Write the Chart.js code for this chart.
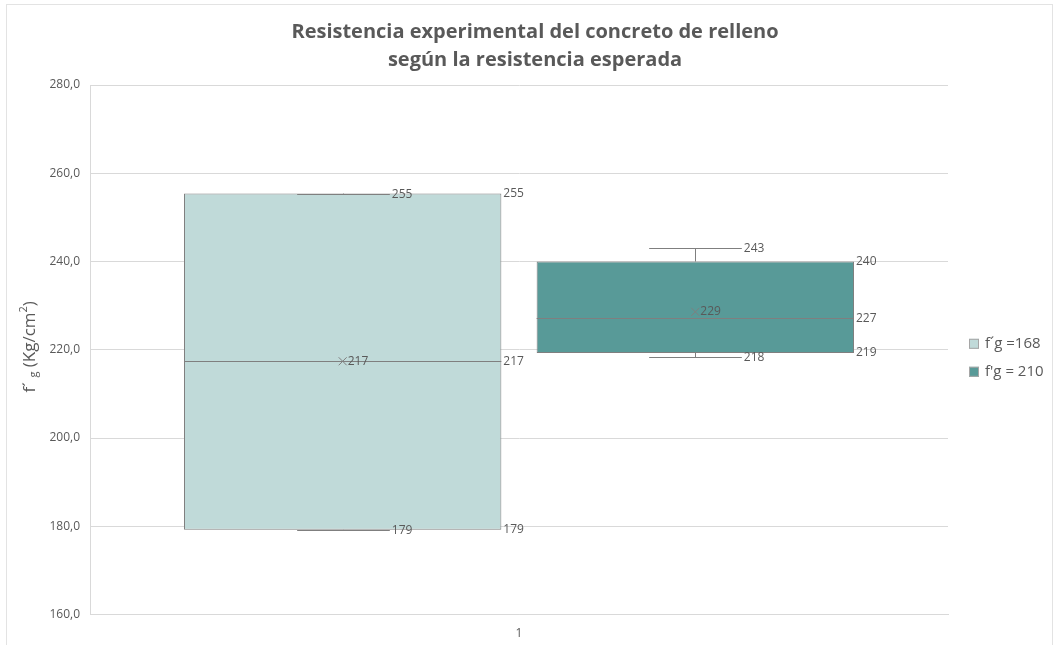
<!DOCTYPE html>
<html>
<head>
<meta charset="utf-8">
<script src="https://cdn.jsdelivr.net/npm/chart.js@4.4.1/dist/chart.umd.min.js"></script>
<style>
  html, body { margin: 0; padding: 0; background: #fff; }
</style>
</head>
<body>
<canvas id="chart" width="1058" height="645"></canvas>
<script>
// Box & whisker data (one category, two groups)
const categories = ['1'];
const seriesNames = ['f´g =168', "f'g = 210"];
const mins    = [179.2, 218.3];
const q1s     = [179.2, 219.3];
const medians = [217.4, 227.2];
const q3s     = [255.4, 240.0];
const maxs    = [255.4, 243.1];
const means   = [217.4, 228.6];
const yTicks  = [160, 180, 200, 220, 240, 260, 280];

const fills = ['#c0dad9', '#589a98'];
const lineGray = '#7f7f7f';
const textGray = '#595959';
const FONT = "'Open Sans', sans-serif";

const fmt = v => v.toFixed(1).replace('.', ',');

// whiskers, median, mean marker and value labels on top of the floating bars
const boxDecor = {
    id: 'boxDecor',
    afterDatasetsDraw(chart) {
        const ctx = chart.ctx;
        const y = chart.scales.y;
        ctx.save();
        ctx.lineWidth = 1;
        ctx.strokeStyle = lineGray;
        ctx.fillStyle = textGray;
        ctx.font = '12px ' + FONT;
        ctx.textBaseline = 'middle';
        ctx.textAlign = 'left';

        chart.data.datasets.forEach((ds, i) => {
            const bar = chart.getDatasetMeta(i).data[0];
            const cx = Math.round(bar.x) + 0.5;
            const half = bar.width / 2;
            const right = bar.x + half;
            const cap = bar.width * 0.146;

            const yMin = Math.round(y.getPixelForValue(mins[i])) + 0.5;
            const yMax = Math.round(y.getPixelForValue(maxs[i])) + 0.5;
            const yQ1 = y.getPixelForValue(q1s[i]);
            const yQ3 = y.getPixelForValue(q3s[i]);
            const yMed = Math.round(y.getPixelForValue(medians[i])) + 0.5;
            const yMean = y.getPixelForValue(means[i]);

            // whiskers + caps
            ctx.beginPath();
            ctx.moveTo(cx, yQ3); ctx.lineTo(cx, yMax);
            ctx.moveTo(cx, yQ1); ctx.lineTo(cx, yMin);
            ctx.moveTo(cx - cap, yMax); ctx.lineTo(cx + cap, yMax);
            ctx.moveTo(cx - cap, yMin); ctx.lineTo(cx + cap, yMin);
            // median
            ctx.moveTo(bar.x - half, yMed); ctx.lineTo(right, yMed);
            ctx.stroke();

            // mean marker
            const m = 4;
            ctx.beginPath();
            ctx.moveTo(bar.x - m, yMean - m); ctx.lineTo(bar.x + m, yMean + m);
            ctx.moveTo(bar.x - m, yMean + m); ctx.lineTo(bar.x + m, yMean - m);
            ctx.stroke();

            // labels
            ctx.fillText(Math.round(maxs[i]), cx + cap + 2, yMax);
            ctx.fillText(Math.round(mins[i]), cx + cap + 2, yMin);
            ctx.fillText(Math.round(q3s[i]), right + 2, yQ3);
            ctx.fillText(Math.round(medians[i]), right + 2, yMed);
            ctx.fillText(Math.round(q1s[i]), right + 2, yQ1);
            ctx.fillText(Math.round(means[i]), bar.x + 5, yMean);
        });
        ctx.restore();
    }
};

// y axis title with subscript g and squared unit
const yTitle = {
    id: 'yTitle',
    afterDraw(chart) {
        const ctx = chart.ctx;
        const parts = [
            { t: 'f´ ', size: 17, dy: 0 },
            { t: 'g', size: 11, dy: 4 },
            { t: ' (Kg/cm', size: 17, dy: 0 },
            { t: '2', size: 11, dy: -6 },
            { t: ')', size: 17, dy: 0 }
        ];
        ctx.save();
        let total = 0;
        parts.forEach(p => { ctx.font = p.size + 'px ' + FONT; p.w = ctx.measureText(p.t).width; total += p.w; });
        const area = chart.chartArea;
        ctx.translate(30, (area.top + area.bottom) / 2 - 3);
        ctx.rotate(-Math.PI / 2);
        ctx.fillStyle = textGray;
        ctx.textBaseline = 'middle';
        let x = -total / 2;
        parts.forEach(p => {
            ctx.font = p.size + 'px ' + FONT;
            ctx.fillText(p.t, x, p.dy);
            x += p.w;
        });
        ctx.restore();
    }
};

// legend at the right of the plot area
const sideLegend = {
    id: 'sideLegend',
    afterDraw(chart) {
        const ctx = chart.ctx;
        const area = chart.chartArea;
        const mid = (area.top + area.bottom) / 2;
        ctx.save();
        ctx.font = '15px ' + FONT;
        ctx.textBaseline = 'middle';
        ctx.textAlign = 'left';
        chart.data.datasets.forEach((ds, i) => {
            const yc = mid - 6 + i * 28;
            const bx = area.right + 21;
            ctx.fillStyle = ds.backgroundColor;
            ctx.fillRect(bx, yc - 5, 10, 10);
            ctx.strokeStyle = '#a6a6a6';
            ctx.lineWidth = 1;
            ctx.strokeRect(bx + 0.5, yc - 4.5, 9, 9);
            ctx.fillStyle = textGray;
            ctx.fillText(ds.label, bx + 16, yc);
        });
        ctx.restore();
    }
};

// white background and thin outer frame
const frame = {
    id: 'frame',
    beforeDraw(chart) {
        const ctx = chart.ctx;
        ctx.save();
        ctx.fillStyle = '#fff';
        ctx.fillRect(0, 0, chart.width, chart.height);
        ctx.strokeStyle = '#e3e3e3';
        ctx.lineWidth = 1;
        ctx.strokeRect(6.5, 4.5, chart.width - 12, chart.height + 10);
        ctx.restore();
    }
};

new Chart(document.getElementById('chart'), {
    type: 'bar',
    data: {
        labels: categories,
        datasets: seriesNames.map((name, i) => ({
            label: name,
            data: [[q1s[i], q3s[i]]],
            backgroundColor: fills[i],
            borderColor: lineGray,
            borderWidth: 1,
            borderSkipped: false,
            barPercentage: 0.9,
            categoryPercentage: 0.822
        }))
    },
    options: {
        responsive: false,
        animation: false,
        layout: { padding: { left: 12, right: 0, top: 0, bottom: 0 } },
        plugins: {
            title: {
                display: true,
                text: ['Resistencia experimental del concreto de relleno', 'según la resistencia esperada'],
                color: textGray,
                font: { family: FONT, size: 20, weight: 'bold', lineHeight: 1.4 },
                padding: { top: 18, bottom: 11 }
            },
            legend: { display: false },
            tooltip: { enabled: false }
        },
        scales: {
            x: {
                grid: { display: false },
                border: { display: true, color: '#d9d9d9' },
                ticks: { color: textGray, padding: 4, font: { family: FONT, size: 12 } }
            },
            y: {
                min: 160,
                max: 280,
                afterBuildTicks: axis => { axis.ticks = yTicks.map(v => ({ value: v })); },
                afterFit: axis => { axis.width = 78; },
                grid: { color: '#d9d9d9', drawTicks: false },
                border: { display: true, color: '#d9d9d9' },
                ticks: {
                    color: textGray,
                    padding: 10,
                    font: { family: FONT, size: 12 },
                    callback: v => fmt(v)
                }
            },
            // empty right-hand axis that keeps room for the legend
            side: {
                position: 'right',
                min: 0,
                max: 1,
                afterFit: axis => { axis.width = 110; },
                grid: { display: false },
                border: { display: false },
                ticks: { display: false }
            }
        }
    },
    plugins: [frame, boxDecor, yTitle, sideLegend]
});
</script>
</body>
</html>
